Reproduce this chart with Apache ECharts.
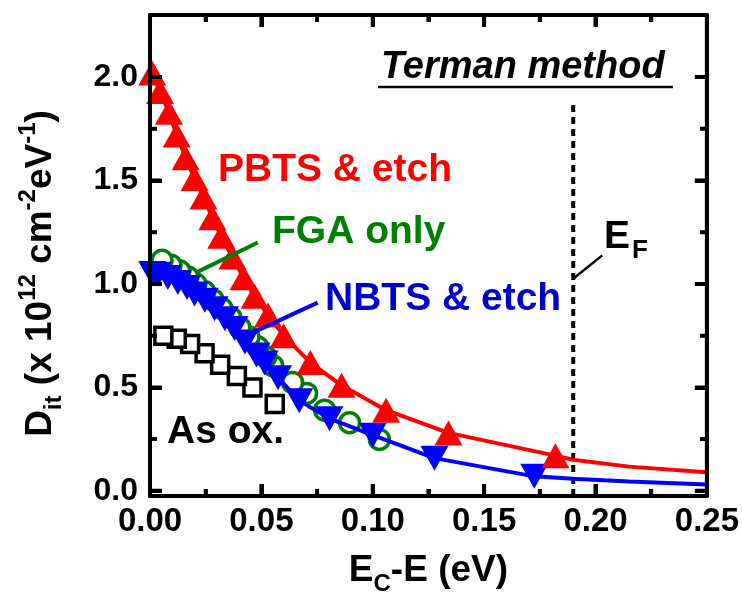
<!DOCTYPE html>
<html>
<head>
<meta charset="utf-8">
<script src="https://cdn.jsdelivr.net/npm/echarts@6/dist/echarts.min.js"></script>
<style>
  html, body { margin: 0; padding: 0; background: #ffffff; }
  #chart { width: 742px; height: 601px; }
</style>
</head>
<body>
<div id="chart"></div>
<script>
// Tick positions
const xMajorTicks = [0.05, 0.10, 0.15, 0.20];
const xMinorTicks = [0.025, 0.075, 0.125, 0.175, 0.225];
const yTicks = [0, 0.5, 1.0, 1.5, 2.0];
const yMinorTicks = [0.25, 0.75, 1.25, 1.75];

// PBTS & etch (Terman extraction points)
const pbtsE  = [0.001, 0.0045, 0.0085, 0.012, 0.016, 0.020, 0.024, 0.028, 0.032, 0.037, 0.042, 0.047, 0.053, 0.060, 0.072, 0.086, 0.106, 0.134, 0.182];
const pbtsD  = [2.02, 1.93, 1.83, 1.72, 1.61, 1.51, 1.42, 1.32, 1.23, 1.13, 1.03, 0.94, 0.85, 0.75, 0.62, 0.51, 0.39, 0.28, 0.17];
// fitted curve beyond the last point
const pbtsTailE = [0.19, 0.215, 0.25];
const pbtsTailD = [0.15, 0.117, 0.09];

// NBTS & etch
const nbtsE = [0.001, 0.0036, 0.008, 0.0125, 0.0166, 0.020, 0.0246, 0.029, 0.0336, 0.038, 0.0426, 0.0478, 0.0515, 0.0575, 0.067, 0.0806, 0.100, 0.1277, 0.1725];
const nbtsD = [1.05, 1.047, 1.031, 1.007, 0.983, 0.951, 0.921, 0.880, 0.832, 0.785, 0.719, 0.656, 0.618, 0.547, 0.436, 0.349, 0.269, 0.158, 0.070];
const nbtsTailE = [0.19, 0.215, 0.25];
const nbtsTailD = [0.058, 0.045, 0.03];

// FGA only
const fgaE = [0.0054, 0.0094, 0.0134, 0.017, 0.0206, 0.0246, 0.0282, 0.0323, 0.0363, 0.0403, 0.0444, 0.0484, 0.052, 0.0551, 0.064, 0.0703, 0.0784, 0.0896, 0.103];
const fgaD = [1.114, 1.090, 1.062, 1.033, 1.000, 0.962, 0.924, 0.881, 0.838, 0.790, 0.743, 0.695, 0.648, 0.605, 0.524, 0.471, 0.390, 0.329, 0.248];

// As oxidized
const asoxE = [0.006, 0.012, 0.018, 0.0245, 0.0315, 0.039, 0.046, 0.056];
const asoxD = [0.75, 0.735, 0.71, 0.665, 0.61, 0.555, 0.50, 0.42];

// Fermi level position
const fermiE = 0.19;

const FONT = '"Liberation Sans", Arial, Helvetica, sans-serif';
const RED = '#ff0000', BLUE = '#0000ff', GREEN = '#008000';
const X_MIN = 0, X_MAX = 0.25;
const Y_MIN = -0.025, Y_MAX = 2.3;
const GRID = { left: 150, right: 34, top: 15, bottom: 101 };

const pairs = (xs, ys) => xs.map((x, i) => [x, ys[i]]);
const lineWithTail = (xs, ys, tx, ty) =>
  pairs(xs, ys).concat(pairs(tx, ty).map(p => ({ value: p, symbol: 'none' })));

// data units per screen pixel, used to give ticks a fixed pixel length
const xPerPx = (X_MAX - X_MIN) / (742 - GRID.left - GRID.right);
const yPerPx = (Y_MAX - Y_MIN) / (601 - GRID.top - GRID.bottom);

const withLen = (major, minor) =>
  major.map(v => [v, 12]).concat(minor.map(v => [v, 7])).sort((a, b) => a[0] - b[0]);

// one continuous path along a horizontal frame edge with inward spikes at each tick
function xEdgeComb(edgeY, dir) {
  const pts = [[X_MIN, edgeY]];
  withLen(xMajorTicks, xMinorTicks).forEach(([v, len]) => {
    pts.push([v, edgeY], [v, edgeY + dir * len * yPerPx], [v, edgeY]);
  });
  pts.push([X_MAX, edgeY]);
  return pts;
}
// the same along a vertical frame edge
function yEdgeComb(edgeX, dir) {
  const pts = [[edgeX, Y_MIN]];
  withLen(yTicks, yMinorTicks).forEach(([v, len]) => {
    pts.push([edgeX, v], [edgeX + dir * len * xPerPx, v], [edgeX, v]);
  });
  pts.push([edgeX, Y_MAX]);
  return pts;
}
const combSeries = data => ({
  type: 'line', z: 7, symbol: 'none',
  data, lineStyle: { color: '#000', width: 4 }
});

const frame = () => ({ show: true, onZero: false, lineStyle: { color: '#000', width: 4 } });
const tickStyle = () => ({ color: '#000', width: 4 });

function yAxisDef(position, withLabel) {
  return {
    type: 'value', position, min: Y_MIN, max: Y_MAX,
    axisLine: frame(),
    splitLine: { show: false },
    axisTick: { show: true, inside: true, length: 12, customValues: yTicks, lineStyle: tickStyle() },
    axisLabel: withLabel ? {
      show: true, customValues: yTicks, margin: 12,
      formatter: v => v.toFixed(1),
      fontFamily: FONT, fontWeight: 'bold', fontSize: 32, color: '#000'
    } : { show: false }
  };
}

function xAxisDef(position, withLabel) {
  return {
    type: 'value', position, min: X_MIN, max: X_MAX, interval: 0.05,
    axisLine: frame(),
    splitLine: { show: false },
    axisTick: { show: true, inside: true, length: 12, lineStyle: tickStyle() },
    minorTick: { show: true, splitNumber: 2, length: 7, lineStyle: tickStyle() },
    axisLabel: withLabel ? {
      show: true, margin: 9,
      formatter: v => v.toFixed(2),
      fontFamily: FONT, fontWeight: 'bold', fontSize: 33, color: '#000'
    } : { show: false }
  };
}

const xMain = xAxisDef('bottom', true);
xMain.name = '{m|E}{sub|C}{m|-E (eV)}';
xMain.nameLocation = 'middle';
xMain.nameGap = 50;
xMain.nameTextStyle = {
  fontFamily: FONT, fontWeight: 'bold', color: '#000',
  rich: {
    m: { fontFamily: FONT, fontWeight: 'bold', fontSize: 37, lineHeight: 50, verticalAlign: 'middle', color: '#000' },
    sub: { fontFamily: FONT, fontWeight: 'bold', fontSize: 24, lineHeight: 24, verticalAlign: 'bottom', color: '#000' }
  }
};

const yMain = yAxisDef('left', true);
yMain.name = '{m|D}{sub|it}{m| (x 10}{sup|12}{m| cm}{sup|-2}{m|eV}{sup|-1}{m|)}';
yMain.nameLocation = 'middle';
yMain.nameGap = 84;
yMain.nameRotate = 90;
yMain.nameTextStyle = {
  fontFamily: FONT, fontWeight: 'bold', color: '#000',
  padding: [0, 36, 0, 0],
  rich: {
    m: { fontFamily: FONT, fontWeight: 'bold', fontSize: 37, lineHeight: 50, verticalAlign: 'middle', color: '#000' },
    sub: { fontFamily: FONT, fontWeight: 'bold', fontSize: 24, lineHeight: 26, verticalAlign: 'bottom', color: '#000' },
    sup: { fontFamily: FONT, fontWeight: 'bold', fontSize: 24, lineHeight: 26, verticalAlign: 'top', color: '#000' }
  }
};

const labels = [
  { type: 'text', x: 218, y: 170, z: 10, style: { text: 'PBTS & etch', fill: RED, fontFamily: FONT, fontWeight: 'bold', fontSize: 39, verticalAlign: 'middle' } },
  { type: 'text', x: 272, y: 232, z: 10, style: { text: 'FGA only', fill: GREEN, fontFamily: FONT, fontWeight: 'bold', fontSize: 39, verticalAlign: 'middle' } },
  { type: 'text', x: 325, y: 299, z: 10, style: { text: 'NBTS & etch', fill: '#0000cc', fontFamily: FONT, fontWeight: 'bold', fontSize: 39, verticalAlign: 'middle' } },
  { type: 'text', x: 167, y: 432, z: 10, style: { text: 'As ox.', fill: '#000', fontFamily: FONT, fontWeight: 'bold', fontSize: 39, verticalAlign: 'middle' } },
  { type: 'text', x: 381, y: 68, z: 10, style: { text: 'Terman method', fill: '#000', fontFamily: FONT, fontWeight: 'bold', fontStyle: 'italic', fontSize: 38, verticalAlign: 'middle' } },
  { type: 'line', z: 10, shape: { x1: 378, y1: 87, x2: 673, y2: 87 }, style: { stroke: '#000', lineWidth: 2.5 } },
  { type: 'text', x: 604, y: 237, z: 10, style: { text: 'E', fill: '#000', fontFamily: FONT, fontWeight: 'bold', fontSize: 39, verticalAlign: 'middle' } },
  { type: 'text', x: 632, y: 251, z: 10, style: { text: 'F', fill: '#000', fontFamily: FONT, fontWeight: 'bold', fontSize: 26, verticalAlign: 'middle' } }
];

const option = {
  animation: false,
  backgroundColor: '#ffffff',
  grid: Object.assign({ containLabel: false }, GRID),
  xAxis: [xMain, xAxisDef('top', false)],
  yAxis: [yMain, yAxisDef('right', false)],
  series: [
    {
      name: 'As ox.', type: 'scatter', z: 3,
      data: pairs(asoxE, asoxD).reverse(),
      symbol: 'rect', symbolSize: 17,
      itemStyle: { color: '#ffffff', borderColor: '#000', borderWidth: 3.5, opacity: 1 }
    },
    {
      name: 'FGA only', type: 'scatter', z: 4,
      data: pairs(fgaE, fgaD).reverse(),
      symbol: 'circle', symbolSize: 20,
      itemStyle: { color: '#ffffff', borderColor: GREEN, borderWidth: 3.5, opacity: 1 }
    },
    {
      name: 'NBTS & etch', type: 'line', z: 5,
      data: lineWithTail(nbtsE, nbtsD, nbtsTailE, nbtsTailD),
      symbol: 'triangle', symbolRotate: 180, symbolSize: [28, 25], showAllSymbol: true,
      lineStyle: { color: BLUE, width: 4 },
      itemStyle: { color: BLUE, opacity: 1 }
    },
    {
      name: 'PBTS & etch', type: 'line', z: 6,
      data: lineWithTail(pbtsE, pbtsD, pbtsTailE, pbtsTailD),
      symbol: 'triangle', symbolSize: [28, 25], showAllSymbol: true,
      lineStyle: { color: RED, width: 4 },
      itemStyle: { color: RED, opacity: 1 }
    },
    {
      name: 'E_F', type: 'line', z: 2, symbol: 'none',
      data: [[fermiE, Y_MIN], [fermiE, 1.876]],
      lineStyle: { color: '#000', width: 4, type: [7, 5] }
    },
    // label pointers
    {
      type: 'line', z: 7, symbol: 'none', data: [[0.0484, 1.20], [0.0211, 1.057]],
      lineStyle: { color: GREEN, width: 4 }
    },
    {
      type: 'line', z: 7, symbol: 'none', data: [[0.0753, 0.91], [0.0417, 0.743]],
      lineStyle: { color: BLUE, width: 4 }
    },
    {
      type: 'line', z: 7, symbol: 'none', data: [[0.1904, 1.029], [0.203, 1.138]],
      lineStyle: { color: '#000', width: 2.5 }
    },
    // frame ticks on all four edges
    combSeries(xEdgeComb(Y_MIN, 1)),
    combSeries(xEdgeComb(Y_MAX, -1)),
    combSeries(yEdgeComb(X_MIN, 1)),
    combSeries(yEdgeComb(X_MAX, -1))
  ],
  graphic: labels
};

const chart = echarts.init(document.getElementById('chart'), null, { renderer: 'canvas' });
chart.setOption(option);
</script>
</body>
</html>
